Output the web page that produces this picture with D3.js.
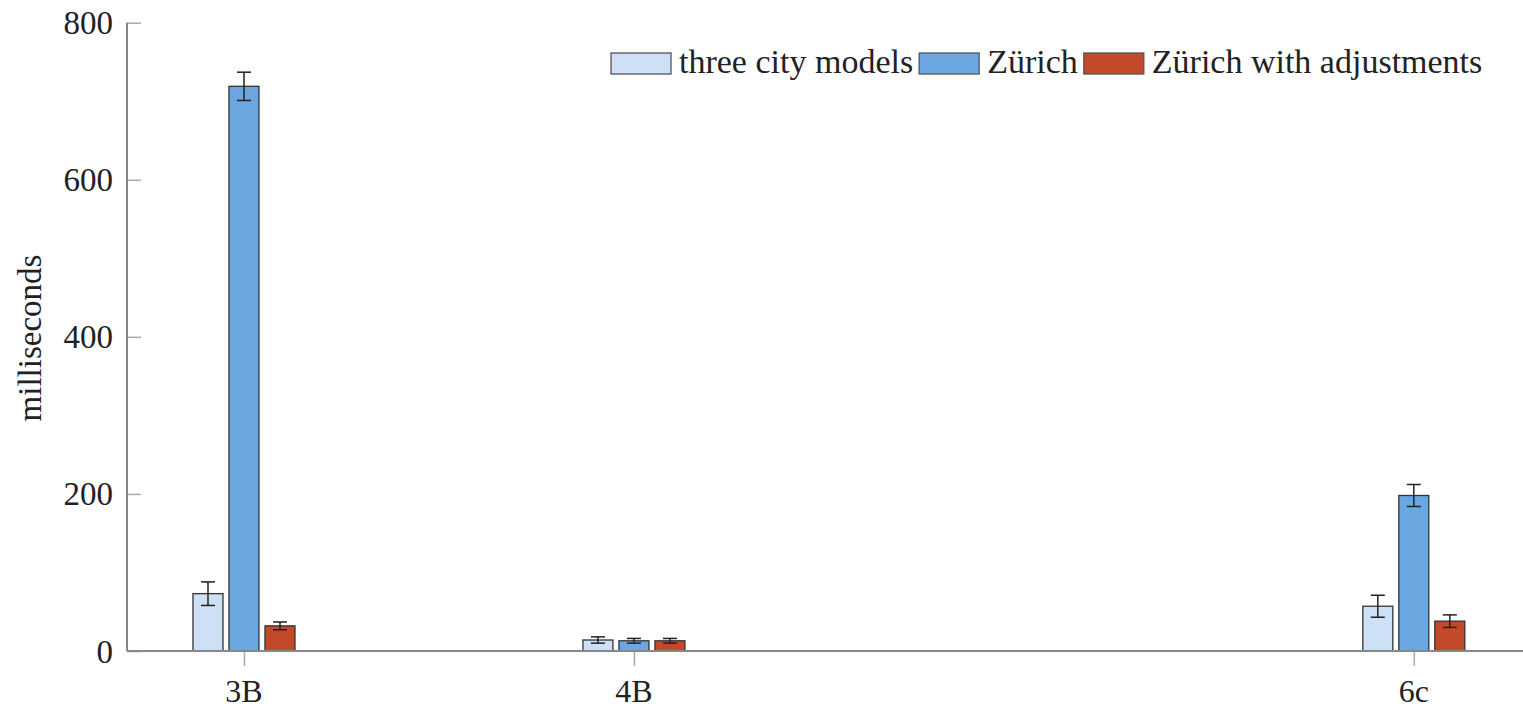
<!DOCTYPE html>
<html>
<head>
<meta charset="utf-8">
<script src="https://cdn.jsdelivr.net/npm/d3@7"></script>
<style>
  body { margin: 0; background: #fff; }
  svg { display: block; font-family: "Liberation Serif", "Times New Roman", serif; }
</style>
</head>
<body>
<div id="chart"></div>
<script>
// data
const categories = ["3B", "4B", "6c"];
const categoryPos = [3, 4, 6];
const series = ["three city models", "Zürich", "Zürich with adjustments"];
const colors = ["#cde0f5", "#6aa6e0", "#c24a2a"];
const values = [
  [73, 719, 32],
  [14, 13, 13],
  [57, 198, 38]
];
const errors = [
  [15, 18, 5],
  [4, 3, 3],
  [14, 14, 8]
];
const yTicks = [0, 200, 400, 600, 800];

const W = 1523, H = 711;
const svg = d3.select("#chart").append("svg")
    .attr("width", W)
    .attr("height", H);

const x = d3.scaleLinear().domain([2.7, 6.28]).range([127, 1523]);
const y = d3.scaleLinear().domain([0, 800]).range([651, 22.7]);
const inner = d3.scaleBand().domain(series).range([-54, 54])
    .paddingInner(1 / 6).paddingOuter(1 / 12);

// y axis (ticks point inward)
const yAxis = svg.append("g")
    .attr("transform", "translate(127,0)")
    .call(d3.axisRight(y).tickValues(yTicks).tickSize(14).tickFormat(""));
yAxis.select(".domain").remove();
yAxis.selectAll(".tick line").attr("stroke", "#aaa").attr("stroke-width", 1.5);

svg.append("line")
    .attr("x1", 127).attr("x2", 127)
    .attr("y1", y(800)).attr("y2", y(0))
    .attr("stroke", "#888").attr("stroke-width", 2);

svg.selectAll(".ylab")
  .data(yTicks)
  .enter().append("text")
    .attr("class", "ylab")
    .attr("x", 113)
    .attr("y", d => y(d))
    .attr("dy", "0.35em")
    .attr("text-anchor", "end")
    .attr("font-size", 33)
    .attr("fill", "#222")
    .text(d => d);

svg.append("text")
    .attr("transform", "translate(41,338) rotate(-90)")
    .attr("text-anchor", "middle")
    .attr("font-size", 33)
    .attr("fill", "#222")
    .text("milliseconds");

// x axis
const xAxis = svg.append("g")
    .attr("transform", `translate(0,${y(0)})`)
    .call(d3.axisBottom(x).tickValues(categoryPos).tickSize(15).tickFormat(""));
xAxis.select(".domain").remove();
xAxis.selectAll(".tick line").attr("stroke", "#aaa").attr("stroke-width", 1.5);

svg.selectAll(".xlab")
  .data(categories)
  .enter().append("text")
    .attr("class", "xlab")
    .attr("x", (d, i) => x(categoryPos[i]))
    .attr("y", 702)
    .attr("text-anchor", "middle")
    .attr("font-size", 32)
    .attr("fill", "#222")
    .text(d => d);

// bars
const rows = [];
categories.forEach((c, i) => {
  series.forEach((s, j) => {
    rows.push({ cat: i, s, j, v: values[i][j], e: errors[i][j] });
  });
});

const bar = svg.selectAll(".bar")
  .data(rows)
  .enter().append("g")
    .attr("class", "bar");

bar.append("rect")
    .attr("x", d => x(categoryPos[d.cat]) + inner(d.s))
    .attr("y", d => y(d.v))
    .attr("width", inner.bandwidth())
    .attr("height", d => y(0) - y(d.v))
    .attr("fill", d => colors[d.j])
    .attr("stroke", "#333")
    .attr("stroke-width", 1.3);

const cx = d => x(categoryPos[d.cat]) + inner(d.s) + inner.bandwidth() / 2;
bar.append("line")
    .attr("x1", cx).attr("x2", cx)
    .attr("y1", d => y(d.v + d.e))
    .attr("y2", d => y(d.v - d.e))
    .attr("stroke", "#222").attr("stroke-width", 1.5);
[1, -1].forEach(sign => {
  bar.append("line")
      .attr("x1", d => cx(d) - 7).attr("x2", d => cx(d) + 7)
      .attr("y1", d => y(d.v + sign * d.e))
      .attr("y2", d => y(d.v + sign * d.e))
      .attr("stroke", "#222").attr("stroke-width", 1.5);
});

// x axis line drawn on top of bars
svg.append("line")
    .attr("x1", 127).attr("x2", W)
    .attr("y1", y(0)).attr("y2", y(0))
    .attr("stroke", "#888").attr("stroke-width", 2);

// legend
const legend = svg.append("g").attr("transform", "translate(611,0)");
let lx = 0;
series.forEach((s, j) => {
  legend.append("rect")
      .attr("x", lx).attr("y", 53)
      .attr("width", 60).attr("height", 21)
      .attr("fill", colors[j])
      .attr("stroke", "#555").attr("stroke-width", 1.3);
  const t = legend.append("text")
      .attr("x", lx + 68).attr("y", 73)
      .attr("font-size", 34)
      .attr("fill", "#222")
      .text(s);
  lx += 68 + t.node().getComputedTextLength() + 6;
});
</script>
</body>
</html>
